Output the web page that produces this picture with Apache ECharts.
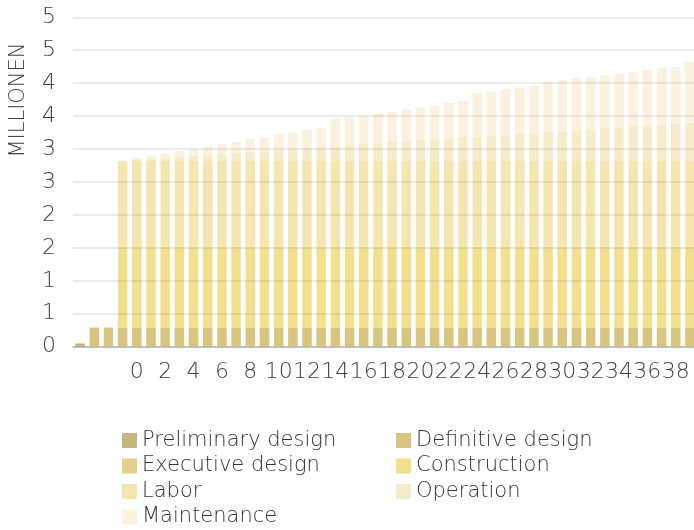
<!DOCTYPE html>
<html>
<head>
<meta charset="utf-8">
<script src="https://cdn.jsdelivr.net/npm/echarts@6/dist/echarts.min.js"></script>
<style>
  html, body { margin: 0; padding: 0; background: #fff; }
  #main { width: 694px; height: 530px; }
</style>
</head>
<body>
<div id="main"></div>
<script>
// categories: 4 unlabelled years before year 0, then year 0..39
var categories = ['', '', '', '', '0', '1', '2', '3', '4', '5', '6', '7', '8', '9',
  '10', '11', '12', '13', '14', '15', '16', '17', '18', '19', '20', '21', '22', '23',
  '24', '25', '26', '27', '28', '29', '30', '31', '32', '33', '34', '35', '36', '37', '38', '39']

// values in millions
var preliminary = [0.05]
var definitive = [0, 0.29, 0.29, 0.29, 0.29, 0.29, 0.29, 0.29, 0.29, 0.29, 0.29, 0.29,
  0.29, 0.29, 0.29, 0.29, 0.29, 0.29, 0.29, 0.29, 0.29, 0.29, 0.29, 0.29, 0.29, 0.29,
  0.29, 0.29, 0.29, 0.29, 0.29, 0.29, 0.29, 0.29, 0.29, 0.29, 0.29, 0.29, 0.29, 0.29,
  0.29, 0.29, 0.29, 0.29]
var executive = []
var construction = [0, 0, 0, 1.23, 1.23, 1.23, 1.23, 1.23, 1.23, 1.23, 1.23, 1.23,
  1.23, 1.23, 1.23, 1.23, 1.23, 1.23, 1.23, 1.23, 1.23, 1.23, 1.23, 1.23, 1.23, 1.23,
  1.23, 1.23, 1.23, 1.23, 1.23, 1.23, 1.23, 1.23, 1.23, 1.23, 1.23, 1.23, 1.23, 1.23,
  1.23, 1.23, 1.23, 1.23]
var labor = [0, 0, 0, 1.30, 1.30, 1.30, 1.30, 1.30, 1.30, 1.30, 1.30, 1.30,
  1.30, 1.30, 1.30, 1.30, 1.30, 1.30, 1.30, 1.30, 1.30, 1.30, 1.30, 1.30, 1.30, 1.30,
  1.30, 1.30, 1.30, 1.30, 1.30, 1.30, 1.30, 1.30, 1.30, 1.30, 1.30, 1.30, 1.30, 1.30,
  1.30, 1.30, 1.30, 1.30]
var operation = [0, 0, 0, 0, 0.02, 0.03, 0.05, 0.06, 0.08, 0.09, 0.11, 0.12,
  0.14, 0.15, 0.17, 0.18, 0.20, 0.21, 0.23, 0.24, 0.26, 0.27, 0.29, 0.30, 0.32, 0.33,
  0.35, 0.37, 0.37, 0.39, 0.40, 0.41, 0.42, 0.44, 0.45, 0.47, 0.48, 0.50, 0.51, 0.53,
  0.53, 0.55, 0.56, 0.58]
var maintenance = [0, 0, 0, 0, 0.02, 0.05, 0.06, 0.09, 0.10, 0.13, 0.15, 0.17,
  0.19, 0.21, 0.23, 0.25, 0.27, 0.29, 0.41, 0.42, 0.43, 0.45, 0.46, 0.48, 0.49, 0.51,
  0.53, 0.54, 0.66, 0.67, 0.69, 0.70, 0.72, 0.76, 0.78, 0.78, 0.79, 0.80, 0.82, 0.82,
  0.85, 0.86, 0.87, 0.92]

var seriesNames = ['Preliminary design', 'Definitive design', 'Executive design',
  'Construction', 'Labor', 'Operation', 'Maintenance']
var seriesData = [preliminary, definitive, executive, construction, labor, operation, maintenance]
var colors = ['#c4b77c', '#d6c680', '#e0d08a', '#f2e08f', '#f5e6b0', '#f7ecc9', '#faf2de']

var fontFamily = '"DejaVu Sans", sans-serif'
var textColor = '#404040'

var chart = echarts.init(document.getElementById('main'))

var series = seriesNames.map(function (name, i) {
  return {
    name: name,
    type: 'bar',
    stack: 'total',
    z: 2,
    barWidth: 9.5,
    itemStyle: { color: colors[i] },
    data: seriesData[i]
  }
})

var legendText = { fontFamily: fontFamily, fontSize: 21, fontWeight: 200, color: '#333', lineHeight: 25 }

chart.setOption({
  animation: false,
  color: colors,
  grid: {
    left: 73,
    right: -3,
    top: 17.3,
    bottom: 183.3,
    containLabel: false,
    outerBoundsMode: 'none'
  },
  xAxis: {
    type: 'category',
    data: categories,
    axisLine: { lineStyle: { color: '#d0d0d0', width: 2 } },
    axisTick: { show: false },
    axisLabel: {
      interval: 1,
      margin: 15,
      fontFamily: fontFamily,
      fontSize: 22,
      fontWeight: 200,
      color: textColor
    }
  },
  yAxis: {
    type: 'value',
    min: 0,
    max: 5,
    interval: 0.5,
    z: 3,
    axisLine: { show: false },
    axisTick: { show: false },
    splitLine: { lineStyle: { color: 'rgba(0,0,0,0.1)', width: 1.5 } },
    axisLabel: {
      margin: 17,
      fontFamily: fontFamily,
      fontSize: 22,
      fontWeight: 200,
      color: textColor,
      formatter: function (v) { return String(Math.round(v)) }
    }
  },
  legend: [
    {
      orient: 'vertical',
      left: 122,
      top: 428,
      height: 102,
      padding: 0,
      itemWidth: 15,
      itemHeight: 15,
      itemGap: 0.5,
      icon: 'rect',
      data: ['Preliminary design', 'Executive design', 'Labor', 'Maintenance'],
      textStyle: legendText
    },
    {
      orient: 'vertical',
      left: 396,
      top: 428,
      height: 102,
      padding: 0,
      itemWidth: 15,
      itemHeight: 15,
      itemGap: 0.5,
      icon: 'rect',
      data: ['Definitive design', 'Construction', 'Operation'],
      textStyle: legendText
    }
  ],
  graphic: [
    {
      type: 'text',
      x: 19,
      y: 100,
      rotation: Math.PI / 2,
      style: {
        text: 'MILLIONEN',
        fontFamily: fontFamily,
        fontSize: 21,
        fontWeight: 200,
        fill: textColor,
        align: 'center',
        verticalAlign: 'middle'
      }
    }
  ],
  series: series
})
</script>
</body>
</html>
